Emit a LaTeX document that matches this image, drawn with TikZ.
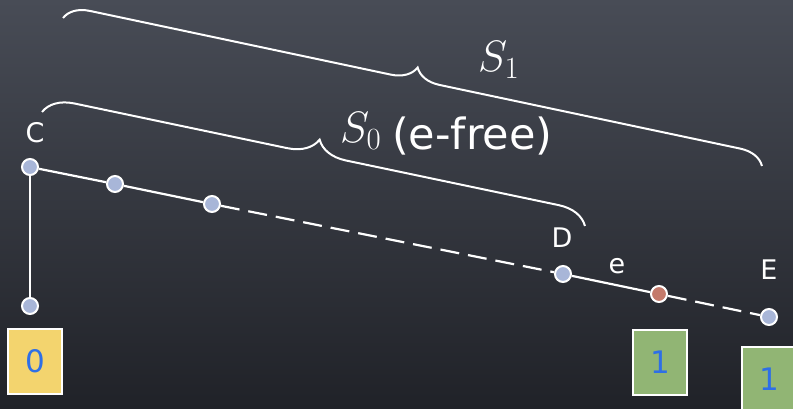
\RequirePackage{fix-cm}
\documentclass[tikz,border=0pt]{standalone}
\usepackage{fontspec}
\setmainfont{DejaVu Sans}
\usetikzlibrary{decorations.pathreplacing}
\definecolor{bgtop}{RGB}{72,76,86}
\definecolor{bgbot}{RGB}{32,34,40}
\definecolor{dotblue}{RGB}{168,182,216}
\definecolor{dotred}{RGB}{196,122,107}
\definecolor{boxyellow}{RGB}{243,212,110}
\definecolor{boxgreen}{RGB}{145,181,116}
\definecolor{numblue}{RGB}{46,111,230}
\tikzset{
  vdot/.style={circle, draw=white, line width=2pt, fill=dotblue, minimum size=16pt, inner sep=0pt},
  rdot/.style={vdot, fill=dotred},
  conn/.style={draw=white, line width=2.2pt},
  dconn/.style={conn, dash pattern=on 19pt off 9pt},
  lbl/.style={text=white, inner sep=0pt, font=\fontsize{27}{30}\selectfont},
  numbox/.style={draw=white, line width=2pt, minimum width=54pt, minimum height=65pt, inner sep=0pt,
     text=numblue, font=\fontsize{31}{33}\selectfont},
  ybox/.style={numbox, fill=boxyellow},
  gbox/.style={numbox, fill=boxgreen},
  bracestyle/.style={draw=white, line width=2pt, decorate},
  mathlbl/.style={text=white, inner sep=0pt, font=\fontsize{44}{48}\selectfont},
}
\begin{document}
\begin{tikzpicture}[x=1pt,y=-1pt]
\useasboundingbox (0,0) rectangle (793,409);
\clip (0,0) rectangle (793,409);
\shade[top color=bgtop, bottom color=bgbot] (0,0) rectangle (793,409);

% vertices
\node[vdot] (c) at (30,167) {};
\node[vdot] (p1) at (115,184) {};
\node[vdot] (p2) at (212,204) {};
\node[vdot] (d) at (563,274) {};
\node[rdot] (r) at (659,294) {};
\node[vdot] (e) at (769,317) {};
\node[vdot] (b) at (30,306) {};

% connectors
\draw[conn] (c) -- (b);
\draw[conn] (c) -- (p1);
\draw[conn] (p1) -- (p2);
\draw[dconn] (p2) -- (d);
\draw[conn] (d) -- (r);
\draw[dconn] (r) -- (e);

% vertex labels
\node[lbl] (lc) at (35,133) {C};
\node[lbl] (ld) at (562,238) {D};
\node[lbl] (le) at (617,266) {e};
\node[lbl] (lE) at (769,270) {E};

% boxes
\node[ybox] (b0) at (35,361.5) {0};
\node[gbox] (b1) at (660,362.5) {1};
\node[gbox] (b2) at (769,379.5) {1};

% braces
\coordinate (s1a) at (63,18);
\coordinate (s1b) at (762,166);
\coordinate (s0a) at (42,112);
\coordinate (s0b) at (585,226);
\draw[bracestyle, decoration={brace, amplitude=25pt}] (s1a) -- (s1b);
\draw[bracestyle, decoration={brace, amplitude=30pt}] (s0a) -- (s0b);

% brace labels
\node[mathlbl, anchor=base west] (ls1) at (478,72) {$S_1$};
\node[mathlbl, anchor=base west] (ls0) at (340,143) {$S_0$};
\node[text=white, inner sep=0pt, anchor=base west, font=\fontsize{43}{46}\selectfont] (lfree) at (392,150) {(e-free)};
\end{tikzpicture}
\end{document}
